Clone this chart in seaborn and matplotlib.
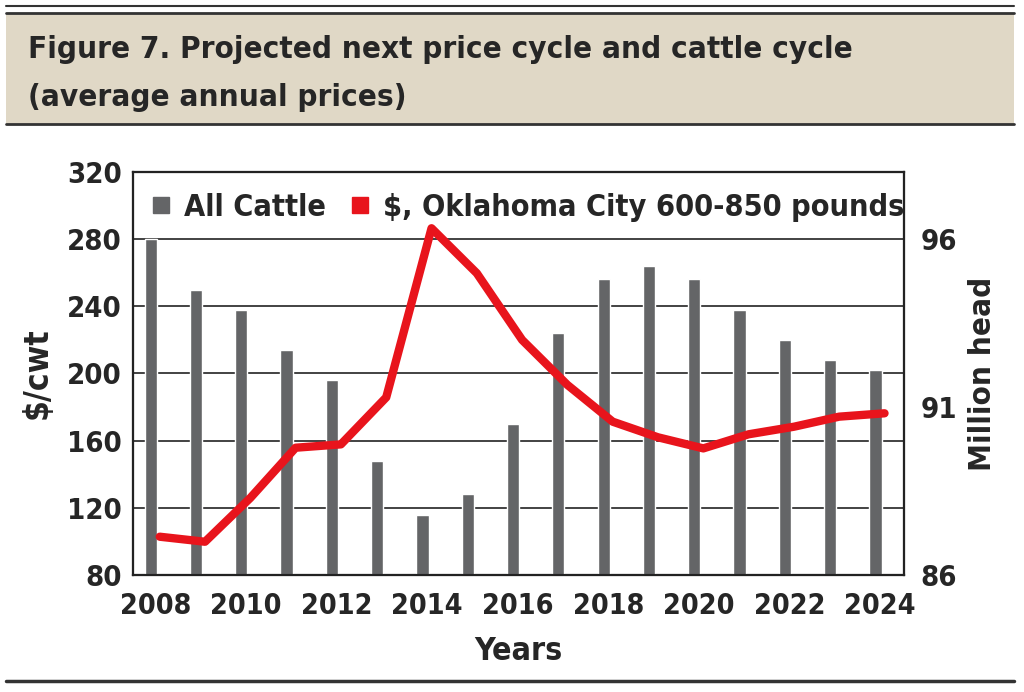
import numpy as np
import pandas as pd
import matplotlib
matplotlib.use('Agg')
from matplotlib import pyplot as plt
from matplotlib.lines import Line2D
from matplotlib.patches import Rectangle
import seaborn as sns

# Data
years = list(range(2008, 2025))
all_cattle = [96.0, 94.5, 93.9, 92.7, 91.8, 89.4, 87.8, 88.4, 90.5,
              93.2, 94.8, 95.2, 94.8, 93.9, 93.0, 92.4, 92.1]  # million head
okc_price = [102.8, 99.8, 125.9, 155.8, 157.8, 185.8, 286.5, 259.7, 220.0,
             193.2, 171.3, 162.0, 155.4, 163.8, 168.3, 174.3, 176.3]  # $/cwt
price_ticks = [80, 120, 160, 200, 240, 280, 320]
head_ticks = [86, 91, 96]
year_labels = [str(y) for y in years[::2]]

BAR_COLOR = '#646567'
LINE_COLOR = '#e8141c'
BOX_COLOR = '#e0d8c6'
RULE_COLOR = '#333333'

sns.set_style('white')
plt.rcParams['font.family'] = ['DejaVu Sans']
plt.rcParams['font.weight'] = 'bold'
plt.rcParams['font.stretch'] = 'condensed'

df = pd.DataFrame({'year': years, 'head': all_cattle, 'price': okc_price})
df['pos'] = np.arange(len(df))

fig = plt.figure(figsize=(10.24, 6.92), dpi=100)

# Title banner + page rules
fig.patches.append(Rectangle((0.006, 1 - 124 / 692), 0.984, (124 - 13) / 692,
                             transform=fig.transFigure, facecolor=BOX_COLOR,
                             edgecolor='none', zorder=0))
for y, lw in [(6, 1.5), (13, 2.0), (124, 2.0), (681, 2.5)]:
    fig.add_artist(Line2D([0.006, 0.990], [1 - y / 692] * 2, color=RULE_COLOR,
                          lw=lw, transform=fig.transFigure))
fig.text(0.027, 1 - 50 / 692, 'Figure 7. Projected next price cycle and cattle cycle',
         fontsize=22.5, fontweight='bold', va='center', ha='left')
fig.text(0.027, 1 - 98 / 692, '(average annual prices)',
         fontsize=22.5, fontweight='bold', va='center', ha='left')

# Axes: price (grid), head (bars), price line on top
ax = fig.add_axes([133 / 1024, 1 - 575 / 692, (904 - 133) / 1024, (575 - 172) / 692])
ax2 = ax.twinx()
ax3 = ax.twinx()

sns.barplot(data=df, x='pos', y='head', ax=ax2, color=BAR_COLOR, width=0.27,
            native_scale=True, saturation=1)
sns.lineplot(x=df['pos'] + 0.2, y=df['price'], ax=ax3, color=LINE_COLOR, lw=6)

ax.set_ylim(80, 320)
ax.set_yticks(price_ticks)
ax.grid(axis='y', color='#222222', lw=1.2)
ax.set_axisbelow(True)
ax2.set_ylim(86, 98)
ax2.set_yticks(head_ticks)
ax3.set_ylim(80, 320)
ax3.set_yticks([])
ax3.set_ylabel('')
ax2.set_xlabel('')
ax3.set_xlabel('')

for a in (ax, ax2, ax3):
    a.set_xlim(-0.39, 16.63)
    for s in a.spines.values():
        s.set_color('#222222')
        s.set_linewidth(1.5)

ax.set_xticks(df['pos'][::2] + 0.1)
ax.set_xticklabels(year_labels)
ax.tick_params(axis='x', length=0, labelsize=20.5, pad=12)
ax.tick_params(axis='y', length=0, labelsize=21, pad=8)
ax2.tick_params(axis='y', length=0, labelsize=21, pad=12)

ax.set_ylabel('$/cwt', fontsize=24, fontweight='bold', labelpad=10)
ax2.set_ylabel('Million head', fontsize=22.5, fontweight='bold', labelpad=8)
ax.set_xlabel('Years', fontsize=23, fontweight='bold', labelpad=12)

handles = [Line2D([], [], marker='s', ls='none', color=BAR_COLOR, markersize=11),
           Line2D([], [], marker='s', ls='none', color=LINE_COLOR, markersize=11)]
ax3.legend(handles, ['All Cattle', '$, Oklahoma City 600-850 pounds'],
           loc='center left', bbox_to_anchor=(0.021, 0.912), ncol=2, frameon=False,
           fontsize=22.0, handletextpad=0.35, columnspacing=0.7, handlelength=0.8,
           borderaxespad=0.0, borderpad=0.0)

fig.savefig('out.png', dpi=100)
